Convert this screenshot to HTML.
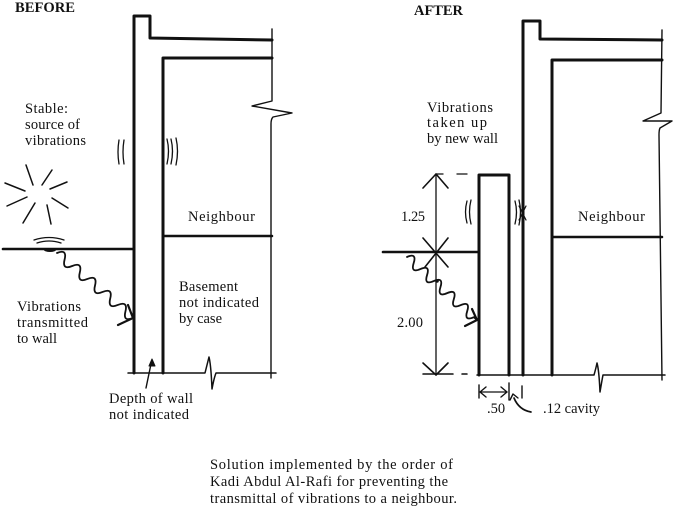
<!DOCTYPE html>
<html>
<head>
<meta charset="utf-8">
<style>
html,body{margin:0;padding:0;background:#fff;}
svg{display:block;}
text{font-family:"Liberation Serif",serif;fill:#111;font-size:14.5px;}
</style>
</head>
<body>
<svg width="678" height="507" viewBox="0 0 678 507" xmlns="http://www.w3.org/2000/svg">
<g fill="none" stroke="#111" stroke-linecap="round" stroke-linejoin="round">
<!-- ========== LEFT (BEFORE) ========== -->
<path d="M134,373 L134,16 L150,16 L150,38 L272,40" stroke-width="3"/>
<path d="M163,373 L163,58 L272,58" stroke-width="3"/>
<path d="M163,236 L272,236" stroke-width="2.5"/>
<path d="M272,29 L272,101 L252,106 L292,113 L273,117 Q271,119 271,124 L271,378" stroke-width="1.4"/>
<path d="M128,373 L205,373 Q207,365 209,357 Q211,365 212,389 Q214,378 216,373 L276,373" stroke-width="1.5"/>
<path d="M3,249 L134,249" stroke-width="2.6"/>
<ellipse cx="50" cy="250" rx="6" ry="2" fill="#111" stroke="none"/>
<path d="M34,240 Q49,235 64,240" stroke-width="1.3"/>
<path d="M37,243 Q49,239 61,243" stroke-width="1.3"/>
<!-- starburst -->
<g stroke-width="1.5">
<path d="M26,165 L33,185"/>
<path d="M52,170 L42,185"/>
<path d="M67,182 L50,189"/>
<path d="M5,183 L25,191"/>
<path d="M7,206 L27,197"/>
<path d="M52,198 L68,208"/>
<path d="M35,203 L23,223"/>
<path d="M47,205 L51,224"/>
</g>
<!-- vibration marks -->
<path d="M119,140 Q117,152 119,164" stroke-width="1.3"/>
<path d="M124,140 Q122,152 124,164" stroke-width="1.3"/>
<path d="M167,139 Q170,151 167,164" stroke-width="1.3"/>
<path d="M171,139 Q174,151 171,164" stroke-width="1.3"/>
<path d="M176,138 Q179,151 176,165" stroke-width="1.3"/>
<!-- wave left -->
<path transform="translate(57,253) rotate(40.5)" d="M0,0 q5,-10 10,0 t10,0 t10,0 t10,0 t10,0 t10,0 t10,0 t10,0 t10,0 t10,0" stroke-width="1.8"/>
<path d="M133,318 L118,325 M133,318 L128,305" stroke-width="2.2"/>
<!-- depth leader -->
<path d="M146,388 L151,364" stroke-width="1.4"/>
<path d="M152,359 L149,366 L155,366 Z" fill="#111" stroke-width="1"/>

<!-- ========== RIGHT (AFTER) ========== -->
<path d="M523,375 L523,21 L540,21 L540,39 L662,40" stroke-width="3"/>
<path d="M552,375 L552,60 L662,60" stroke-width="3"/>
<path d="M552,237 L662,237" stroke-width="2.5"/>
<path d="M662,30 L661,113 L643,121 L672,121 L660,128 Q659,130 659,135 L662,380" stroke-width="1.4"/>
<path d="M479,375 L479,175 L509,175 L509,375" stroke-width="3"/>
<path d="M383,252 L479,252" stroke-width="2.6"/>
<path d="M423,374 L453,374 M462,374 L467,374" stroke-width="1.5"/>
<path d="M477,375 L594,375 Q596,368 597,363 Q599,370 600,392 Q602,380 603,375 L665,375" stroke-width="1.5"/>
<!-- dimension vertical -->
<path d="M436,174 L436,375" stroke-width="1.3"/>
<path d="M436,174 L443,174 M457,174 L467,174" stroke-width="1.3"/>
<path d="M423,188 L436,174 L448,188" stroke-width="1.6"/>
<path d="M423,238 L448,267 M448,238 L425,267" stroke-width="1.6"/>
<path d="M423,363 L436,375 L448,363" stroke-width="1.6"/>
<!-- wave right -->
<path transform="translate(407,257) rotate(42)" d="M0,0 q4.5,-10 9,0 t9,0 t9,0 t9,0 t9,0 t9,0 t9,0 t9,0 t9,0 t9,0 L94,0" stroke-width="1.8"/>
<circle cx="437" cy="281" r="1.8" fill="#111" stroke="none"/>
<path d="M477,320 L465,326 M477,320 L472,309" stroke-width="2.2"/>
<!-- vibration marks right -->
<path d="M467,201 Q464,212 467,223" stroke-width="1.3"/>
<path d="M471,200 Q468,212 471,224" stroke-width="1.3"/>
<path d="M515,201 Q518,212 515,224" stroke-width="1.3"/>
<path d="M519,200 Q522,212 519,225" stroke-width="1.3"/>
<path d="M519,206 L526,220 M526,206 L519,220" stroke-width="1.2"/>
<!-- bottom dims -->
<path d="M479,385 L479,398" stroke-width="1.4"/>
<path d="M509,383 L509,400" stroke-width="1.4"/>
<path d="M522,386 L522,398" stroke-width="1.4"/>
<path d="M480,392 L507,392" stroke-width="1.3"/>
<path d="M486,387 L480,392 L486,397" stroke-width="1.4"/>
<path d="M501,387 L507,392 L501,397" stroke-width="1.4"/>
<path d="M531,412 Q519,410 514,398" stroke-width="1.7"/>
<path d="M510,400 L513,394 L518,398" stroke-width="1.4"/>
</g>

<!-- ========== TEXT ========== -->
<text x="15" y="12" font-size="13" font-weight="bold" textLength="60" lengthAdjust="spacingAndGlyphs">BEFORE</text>
<text x="414" y="15" font-size="13" font-weight="bold" textLength="49" lengthAdjust="spacingAndGlyphs">AFTER</text>

<text x="25" y="113" textLength="43">Stable:</text>
<text x="25" y="129" textLength="55">source of</text>
<text x="25" y="145" textLength="61">vibrations</text>

<text x="188" y="221" textLength="67">Neighbour</text>

<text x="179" y="291" textLength="59">Basement</text>
<text x="179" y="307" textLength="80">not indicated</text>
<text x="179" y="323" textLength="43">by case</text>

<text x="17" y="311" textLength="64">Vibrations</text>
<text x="17" y="327" textLength="71">transmitted</text>
<text x="17" y="343" textLength="40">to wall</text>

<text x="109" y="403" textLength="84">Depth of wall</text>
<text x="109" y="419" textLength="80">not indicated</text>

<text x="427" y="112" textLength="66">Vibrations</text>
<text x="427" y="127" textLength="60">taken up</text>
<text x="427" y="143" textLength="71">by new wall</text>

<text x="401" y="221" textLength="24">1.25</text>
<text x="578" y="221" textLength="67">Neighbour</text>
<text x="397" y="327" textLength="26">2.00</text>
<text x="487" y="413">.50</text>
<text x="543" y="413" textLength="57">.12 cavity</text>

<text x="210" y="469" font-size="15" textLength="243">Solution implemented by the order of</text>
<text x="210" y="486" font-size="15" textLength="238">Kadi Abdul Al-Rafi for preventing the</text>
<text x="210" y="503" font-size="15" textLength="247">transmittal of vibrations to a neighbour.</text>
</svg>
</body>
</html>
